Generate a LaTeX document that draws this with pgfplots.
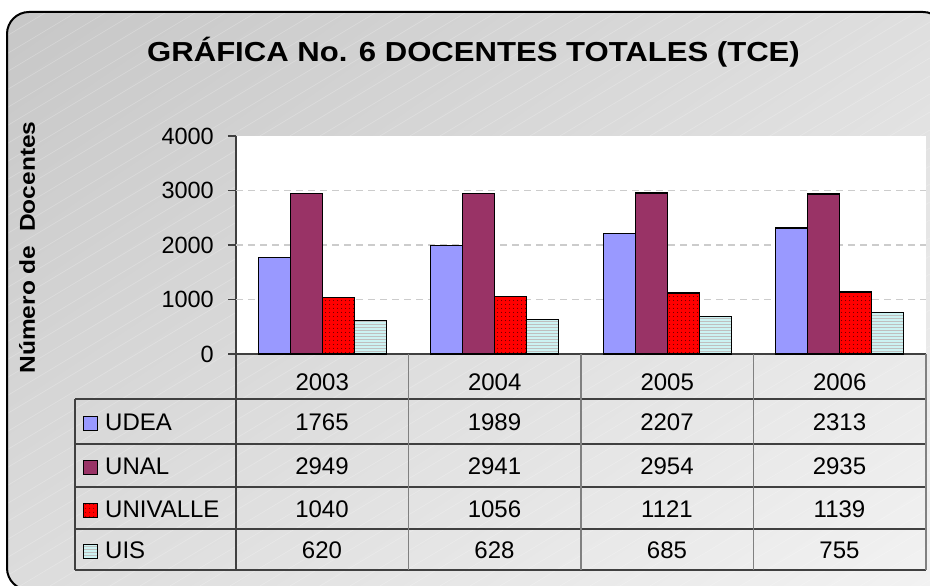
\documentclass[border=0pt]{standalone}
\usepackage{pgfplots}
\pgfplotsset{compat=1.18}
\usepackage{pgfplotstable}
\usepackage{fontspec}
\setmainfont{Liberation Sans}
\newfontfamily\titlestretch{Liberation Sans}[FakeStretch=1.13]
\newfontfamily\labelstretch{Liberation Sans}[FakeStretch=1.14]
\usetikzlibrary{patterns,shadings}

\definecolor{udea}{HTML}{9999FF}
\definecolor{unal}{HTML}{993366}
\definecolor{univalle}{HTML}{FF0000}
\definecolor{uis}{HTML}{CCF2F2}
\definecolor{axisgray}{HTML}{404040}
\definecolor{tablegray}{HTML}{808080}
\definecolor{bgul}{HTML}{C6C6C6}
\definecolor{bgur}{HTML}{DEDEDE}
\definecolor{bgll}{HTML}{DCDCDC}
\definecolor{bglr}{HTML}{F2F2F2}

% puntos ralos para UNIVALLE
\pgfdeclarepatternformonly{sparsedots}{\pgfpointorigin}{\pgfpoint{4pt}{4pt}}{\pgfpoint{4pt}{4pt}}
  {\pgfpathcircle{\pgfpoint{2pt}{2pt}}{0.5pt}\pgfusepath{fill}}

% docentes por universidad y año
\pgfplotstableread{
x UDEA UNAL UNIVALLE UIS
0 1765 2949 1040 620
1 1989 2941 1056 628
2 2207 2954 1121 685
3 2313 2935 1139 755
}\datatable

\begin{document}
\begin{tikzpicture}[x=1pt,y=1pt]
% fondo
\path[use as bounding box] (0,0) rectangle (930,586);
\begin{scope}
  \clip[rounded corners=22pt] (7,574) rectangle (945,-4);
  \shade[upper left=bgul, upper right=bgur, lower left=bgll, lower right=bglr]
    (0,0) rectangle (930,586);
  \foreach \s in {-1000,-970,...,930}
    \draw[white, opacity=0.25, line width=0.6pt] (\s,0) -- ++(1000,600);
\end{scope}
\draw[black, line width=2pt, rounded corners=22pt] (7,574) rectangle (945,-4);

% titulo y etiqueta del eje
\node[anchor=base] at (473.5,524.3)
  {\titlestretch\bfseries\fontsize{27.5}{31}\selectfont GRÁFICA No. 6 DOCENTES TOTALES (TCE)};
\node[rotate=90] at (27,338.5)
  {\labelstretch\bfseries\fontsize{21.5}{24}\selectfont Número de\ \ Docentes};

\begin{axis}[
  at={(236pt,232pt)}, anchor=south west,
  scale only axis, width=690pt, height=218pt,
  xmin=-0.5, xmax=3.5, ymin=0, ymax=4000,
  ybar=0pt, bar width=32pt,
  axis lines*=left,
  axis line style={draw=axisgray, line width=1.3pt},
  axis background/.style={fill=white},
  xtick={0,1,2,3}, xticklabels={2003,2004,2005,2006},
  xtick style={draw=none},
  xticklabel style={font=\fontsize{24}{28}\selectfont, anchor=base, yshift=-29pt},
  ytick={0,1000,2000,3000,4000},
  tick align=outside, major tick length=8pt,
  ytick style={draw=axisgray, line width=1.3pt},
  yticklabel style={font=\fontsize{23.5}{27}\selectfont, anchor=east, inner sep=0pt, xshift=-14pt},
  /pgf/number format/assume math mode=true,
  /pgf/number format/1000 sep={},
  clip=false,
]
\pgfplotsinvokeforeach{1000,2000,3000}{
  \draw[gray!40, line width=1.2pt, dash pattern=on 7pt off 5pt]
    (axis cs:-0.5,#1) -- (axis cs:3.5,#1);
}
\addplot[draw=black, line width=1.3pt, fill=udea] table[x=x,y=UDEA]{\datatable};
\addplot[draw=black, line width=1.3pt, fill=unal] table[x=x,y=UNAL]{\datatable};
\addplot[draw=black, line width=1.3pt, fill=univalle,
  postaction={pattern=sparsedots, pattern color=black}] table[x=x,y=UNIVALLE]{\datatable};
\addplot[draw=black, line width=1.3pt, fill=uis,
  postaction={pattern=horizontal lines, pattern color=gray!50}] table[x=x,y=UIS]{\datatable};
\end{axis}

% tabla de datos
\foreach \yy in {187,142,99,57,16}
  \draw[axisgray, line width=1.2pt] (75,\yy) -- (926,\yy);
\draw[axisgray, line width=1.2pt] (75,187) -- (75,16);
\draw[axisgray, line width=1.3pt] (236,232) -- (236,16);
\foreach \xx in {408.5,581,753.5,926}
  \draw[tablegray, line width=1.2pt] (\xx,232) -- (\xx,16);

\foreach \name/\base/\col [count=\i from 0] in
  {UDEA/155/udea, UNAL/111/unal, UNIVALLE/68.5/univalle, UIS/27/uis} {
  \filldraw[fill=\col, draw=black, line width=1pt] (83,\base) rectangle ++(14,14);
  \ifnum\i=2
    \fill[pattern=sparsedots, pattern color=black] (83,\base) rectangle ++(14,14);
  \fi
  \ifnum\i=3
    \fill[pattern=horizontal lines, pattern color=gray!50] (83,\base) rectangle ++(14,14);
  \fi
  \draw[black, line width=1pt] (83,\base) rectangle ++(14,14);
  \node[anchor=base west, inner sep=0pt, font=\fontsize{24}{28}\selectfont] at (105,\base) {\name};
  \foreach \r in {0,1,2,3} {
    \pgfplotstablegetelem{\r}{\name}\of\datatable
    \node[anchor=base, inner sep=0pt, font=\fontsize{24}{28}\selectfont]
      at (322+172.5*\r,\base) {\pgfplotsretval};
  }
}
\end{tikzpicture}
\end{document}
